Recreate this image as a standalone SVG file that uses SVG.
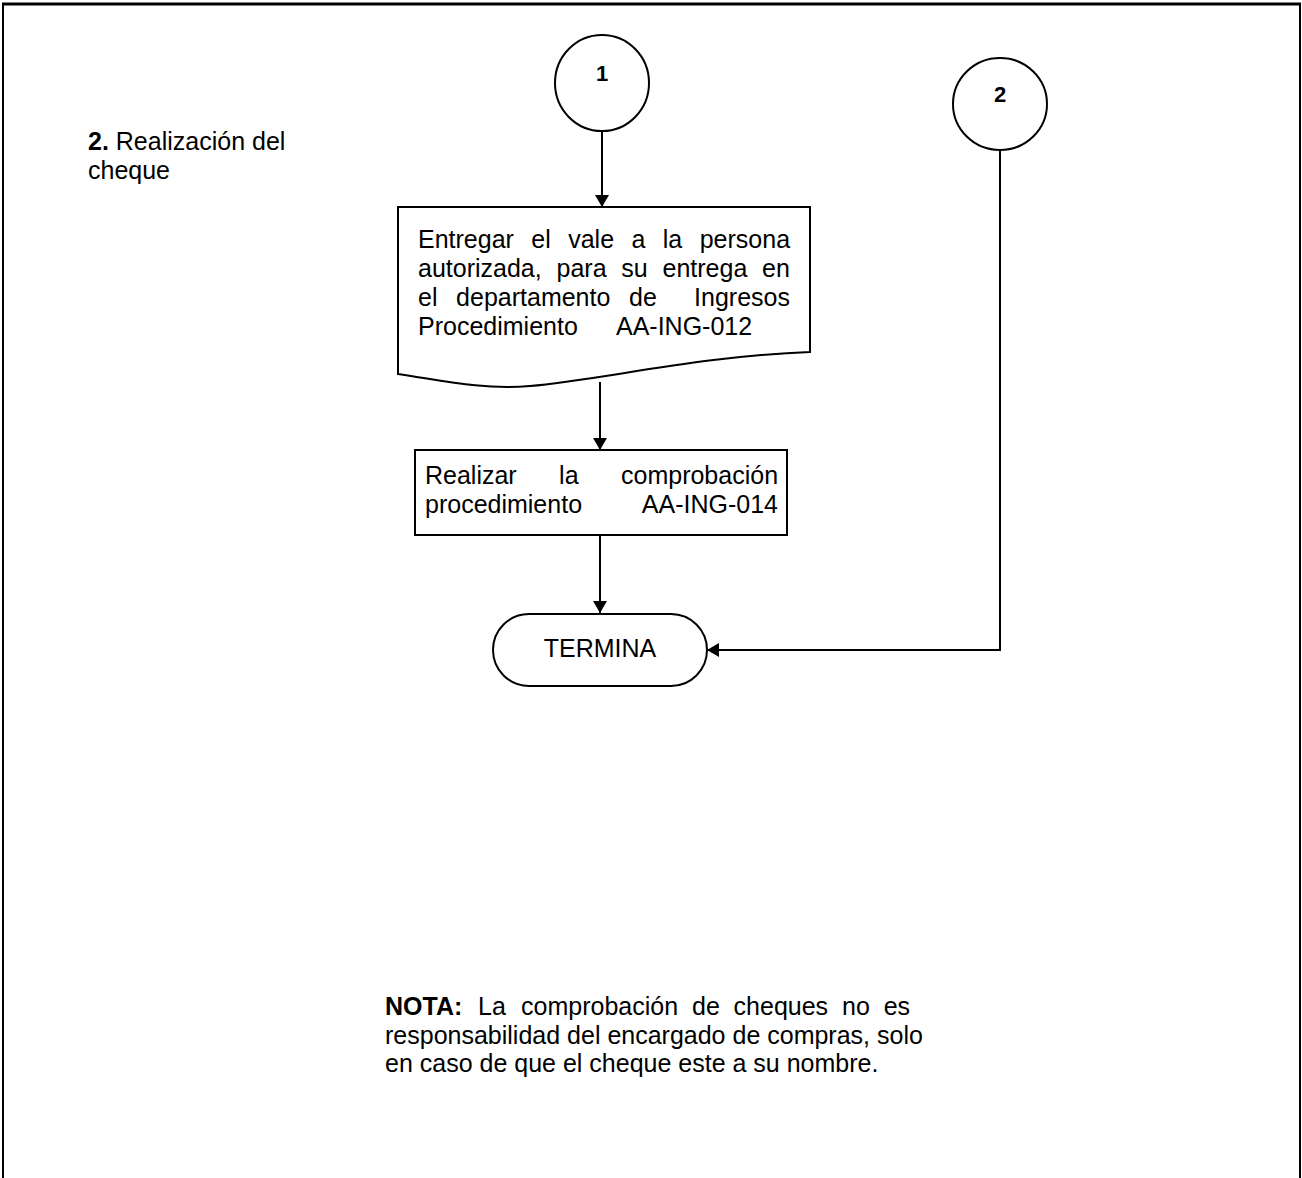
<svg xmlns="http://www.w3.org/2000/svg" width="1302" height="1178" viewBox="0 0 1302 1178">
<style>
text{font-family:"Liberation Sans",Arial,sans-serif;font-size:25px;fill:#000}
.b{font-weight:bold}
.n{font-weight:bold;font-size:22px}
.s{fill:#fff;stroke:#000;stroke-width:2}
.c{fill:none;stroke:#000;stroke-width:2}
</style>
<defs>
<marker id="ah" markerWidth="12" markerHeight="14" refX="12" refY="7" orient="auto" markerUnits="userSpaceOnUse"><path d="M0,0 L12,7 L0,14 Z" fill="#000"/></marker>
</defs>
<rect width="1302" height="1178" fill="#fff"/>
<path d="M3,1178 V4 H1300 V1178" fill="none" stroke="#000" stroke-width="2"/>
<line x1="2" y1="4" x2="1301" y2="4" stroke="#000" stroke-width="3"/>
<g id="section"><text x="88" y="150"><tspan class="b">2.</tspan> Realización del</text><text x="88" y="179">cheque</text></g>
<g id="connectors">
<line class="c" x1="602" y1="131" x2="602" y2="207" marker-end="url(#ah)"/>
<line class="c" x1="600" y1="382" x2="600" y2="450" marker-end="url(#ah)"/>
<line class="c" x1="600" y1="535" x2="600" y2="613" marker-end="url(#ah)"/>
<polyline class="c" points="1000,150 1000,650 707,650" marker-end="url(#ah)"/>
</g>
<g id="c1"><ellipse class="s" cx="602" cy="83" rx="47" ry="48"/><text class="n" x="602" y="81" text-anchor="middle">1</text></g>
<g id="c2"><ellipse class="s" cx="1000" cy="104" rx="47" ry="46"/><text class="n" x="1000" y="102" text-anchor="middle">2</text></g>
<g id="doc"><path class="s" d="M398,207 H810 V352 C700,356 600,380 530,386 C480,390 440,380 398,374 Z"/>
<text y="248"><tspan x="418">Entregar</tspan><tspan x="531.3">el</tspan><tspan x="568.2">vale</tspan><tspan x="631.5">a</tspan><tspan x="662.8">la</tspan><tspan x="699.7">persona</tspan></text>
<text y="277"><tspan x="418">autorizada,</tspan><tspan x="556.5">para</tspan><tspan x="621.3">su</tspan><tspan x="662.5">entrega</tspan><tspan x="762.1">en</tspan></text>
<text y="306"><tspan x="418">el</tspan><tspan x="456.1">departamento</tspan><tspan x="629">de</tspan><tspan x="694.1">Ingresos</tspan></text>
<text y="335"><tspan x="418">Procedimiento</tspan><tspan x="616">AA-ING-012</tspan></text></g>
<g id="box"><rect class="s" x="415" y="450" width="372" height="85"/>
<text y="484"><tspan x="425">Realizar</tspan><tspan x="559.1">la</tspan><tspan x="621">comprobación</tspan></text>
<text y="513"><tspan x="425">procedimiento</tspan><tspan x="641.8">AA-ING-014</tspan></text></g>
<g id="term"><rect class="s" x="493" y="614" width="214" height="72" rx="36"/><text x="600" y="657" text-anchor="middle">TERMINA</text></g>
<g id="nota">
<text y="1015"><tspan x="385" class="b">NOTA:</tspan><tspan x="478">La</tspan><tspan x="521.1">comprobación</tspan><tspan x="692">de</tspan><tspan x="733.6">cheques</tspan><tspan x="842">no</tspan><tspan x="883.7">es</tspan></text>
<text x="385" y="1044">responsabilidad del encargado de compras, solo</text>
<text x="385" y="1072">en caso de que el cheque este a su nombre.</text>
</g>
</svg>
